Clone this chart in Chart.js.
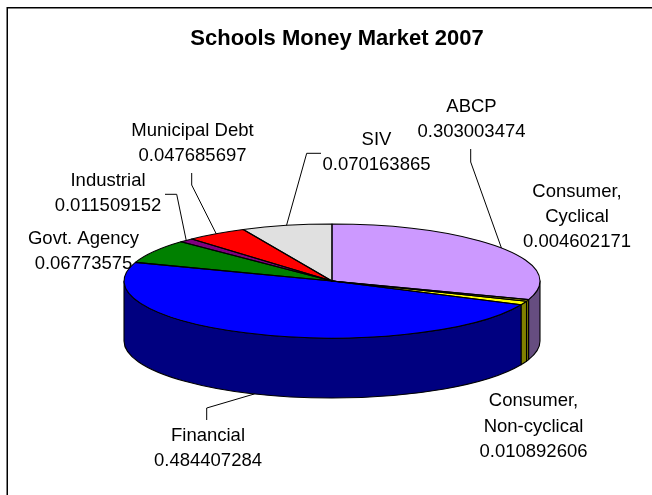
<!DOCTYPE html>
<html>
<head>
<meta charset="utf-8">
<style>
html,body{margin:0;padding:0;background:#fff;}
#wrap{width:652px;height:495px;position:relative;}
canvas{display:block;}
</style>
<script src="https://cdn.jsdelivr.net/npm/chart.js@4"></script>
</head>
<body>
<div id="wrap"><canvas id="c" width="652" height="495"></canvas></div>
<script>
const categories = ["ABCP","Consumer, Cyclical","Consumer, Non-cyclical","Financial","Govt. Agency","Industrial","Municipal Debt","SIV"];
const values = [0.303003474,0.004602171,0.010892606,0.484407284,0.06773575,0.011509152,0.047685697,0.070163865];
const valueLabels = ["0.303003474","0.004602171","0.010892606","0.484407284","0.06773575","0.011509152","0.047685697","0.070163865"];
const topColors = ["#CC99FF","#FFFF00","#FFFF00","#0000FF","#008000","#800080","#FF0000","#E0E0E0"];
const wallColors = ["#664D80","#808000","#808000","#000080","#004000","#400040","#800000","#707070"];

// label layout (separate from the data)
const labelLayout = [
  {x:471.5, y:[107,132], lines:["ABCP"], elbow:[[470.7,149],[470.7,162]]},
  {x:577, y:[192,217,242], lines:["Consumer,","Cyclical"]},
  {x:533.5, y:[401,426.5,452], lines:["Consumer,","Non-cyclical"]},
  {x:208, y:[436,461], lines:["Financial"], elbow:[[206.7,420],[206.7,408]], onWall:true},
  {x:83.5, y:[239,264], lines:["Govt. Agency"]},
  {x:108, y:[181,206], lines:["Industrial"], elbow:[[165,194.3],[176.7,194.3]]},
  {x:192.5, y:[131,156], lines:["Municipal Debt"], elbow:[[191.7,173],[191.7,185]]},
  {x:376.5, y:[140,165], lines:["SIV"], elbow:[[321,153.3],[306.7,153.3]]}
];
const PIE = {cx:332, cy:281, r:208, ry:57, depth:60};
const k = PIE.ry / PIE.r;
const FONT = '18.5px "Liberation Sans", Arial, sans-serif';

const pie3d = {
  id:'pie3d',
  beforeDraw(chart){
    const c = chart.ctx;
    c.save();
    c.fillStyle='#fff';
    c.fillRect(0,0,chart.width,chart.height);
    c.strokeStyle='#000';
    c.lineWidth=1.5;
    c.beginPath();
    c.moveTo(7.25,495);
    c.lineTo(7.25,7.75);
    c.lineTo(652,7.75);
    c.stroke();
    c.restore();
  },
  beforeDatasetsDraw(chart){
    const c = chart.ctx, arcs = chart.getDatasetMeta(0).data;
    const {cx,cy,r,ry,depth} = PIE;
    // front walls, derived from each arc's own angles
    c.save();
    c.lineWidth=1.1; c.strokeStyle='#000'; c.lineJoin='round';
    arcs.forEach((el,i)=>{
      const a=Math.max(el.startAngle,0), b=Math.min(el.endAngle,Math.PI);
      if(b<=a) return;
      c.beginPath();
      c.ellipse(cx,cy,r,ry,0,a,b,false);
      c.lineTo(cx+r*Math.cos(b),cy+ry*Math.sin(b)+depth);
      c.ellipse(cx,cy+depth,r,ry,0,b,a,true);
      c.closePath();
      c.fillStyle=wallColors[i];
      c.fill(); c.stroke();
    });
    c.restore();
    // squash the library's own pie into the top face
    const e=arcs[0];
    c.save();
    c.translate(cx,cy); c.scale(1,k); c.translate(-e.x,-e.y);
  },
  afterDatasetsDraw(chart){
    const c = chart.ctx, arcs = chart.getDatasetMeta(0).data;
    const {cx,cy,r,ry,depth} = PIE;
    c.restore();
    c.save();
    c.lineWidth=1.1; c.strokeStyle='#000'; c.lineJoin='round';
    arcs.forEach(el=>{
      c.beginPath();
      c.moveTo(cx,cy);
      c.ellipse(cx,cy,r,ry,0,el.startAngle,el.endAngle,false);
      c.closePath();
      c.stroke();
    });
    c.restore();
    // leader lines and labels
    c.save();
    c.font=FONT; c.fillStyle='#000'; c.textAlign='center'; c.textBaseline='middle';
    c.strokeStyle='#000'; c.lineWidth=1;
    arcs.forEach((el,i)=>{
      const L=labelLayout[i];
      L.lines.concat([valueLabels[i]]).forEach((t,j)=>c.fillText(t,L.x,L.y[j]));
      if(L.elbow){
        const m=(el.startAngle+el.endAngle)/2;
        const px=cx+r*Math.cos(m), py=cy+ry*Math.sin(m)+(L.onWall?depth:0);
        c.beginPath();
        c.moveTo(L.elbow[0][0],L.elbow[0][1]);
        c.lineTo(L.elbow[1][0],L.elbow[1][1]);
        c.lineTo(px,py);
        c.stroke();
      }
    });
    c.restore();
  }
};

new Chart(document.getElementById('c'),{
  type:'pie',
  data:{labels:categories,datasets:[{data:values,backgroundColor:topColors,borderWidth:0}]},
  options:{
    responsive:false,animation:false,
    radius:PIE.r,
    layout:{padding:{left:22,right:0,top:0,bottom:0}},
    plugins:{
      legend:{display:false},tooltip:{enabled:false},
      title:{display:true,text:"Schools Money Market 2007",color:'#000',
        font:{family:'"Liberation Sans", Arial, sans-serif',size:22,weight:'bold'},
        padding:{top:26,bottom:6}}
    }
  },
  plugins:[pie3d]
});
</script>
</body>
</html>
